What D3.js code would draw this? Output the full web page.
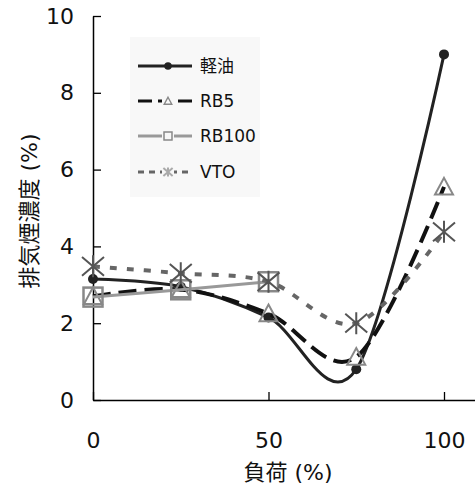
<!DOCTYPE html>
<html>
<head>
<meta charset="utf-8">
<script src="https://cdn.jsdelivr.net/npm/d3@7"></script>
<style>
body{margin:0;background:#fff;}
text{font-family:"DejaVu Sans","Noto Sans CJK JP",sans-serif;fill:#111;}
</style>
</head>
<body>
<div id="chart"></div>
<script>
// load values (%)
var loads = [0, 25, 50, 75, 100];
var seriesNames = ["軽油", "RB5", "RB100", "VTO"];
var keiyu = [3.15, 2.95, 2.15, 0.8, 9.0];
var rb5 = [2.7, 2.88, 2.25, 1.12, 5.55];
var rb100 = [2.68, 2.87, 3.08];
var vto = [3.48, 3.3, 3.08, 2.0, 4.38];
var xTicks = [0, 50, 100];
var yTicks = [0, 2, 4, 6, 8, 10];

var W = 475, H = 486;
var svg = d3.select("#chart").append("svg")
  .attr("width", W).attr("height", H);

var x = d3.scaleLinear().domain([0, 110]).range([93, 479.1]);
var y = d3.scaleLinear().domain([0, 10]).range([400, 16]);

// legend background
svg.append("rect").attr("x", 130).attr("y", 37).attr("width", 130).attr("height", 160)
  .attr("fill", "#f8f8f8");

// axes
var xAxis = svg.append("g").attr("transform", "translate(0,400)")
  .call(d3.axisBottom(x).tickValues(xTicks).tickSizeInner(-8).tickSizeOuter(0).tickPadding(26));
var yAxis = svg.append("g").attr("transform", "translate(93,0)")
  .call(d3.axisLeft(y).tickValues(yTicks).tickSizeInner(-8).tickSizeOuter(0).tickPadding(19));
[xAxis, yAxis].forEach(function(a){
  a.select(".domain").attr("stroke", "#000").attr("stroke-width", 1.5);
  a.selectAll(".tick line").attr("stroke", "#000").attr("stroke-width", 1.3);
  a.selectAll(".tick text").attr("font-size", 22).attr("font-family", null).attr("fill", "#111");
});
xAxis.selectAll(".tick text").attr("dy", "0.35em").attr("y", 40);
yAxis.selectAll(".tick text").attr("x", -19);

svg.append("text").text("負荷 (%)")
  .attr("x", 288).attr("y", 472).attr("dy", "0.35em")
  .attr("text-anchor", "middle").attr("font-size", 22);
svg.append("text").text("排気煙濃度 (%)")
  .attr("transform", "translate(29,211) rotate(-90)")
  .attr("dy", "0.35em")
  .attr("text-anchor", "middle").attr("font-size", 22);

var line = d3.line()
  .x(function(d){ return x(d[0]); })
  .y(function(d){ return y(d[1]); })
  .curve(d3.curveCardinal.tension(0));

function pts(vals){ return vals.map(function(v, i){ return [loads[i], v]; }); }

var styles = [
  {vals: keiyu, stroke: "#222", width: 3, dash: null, marker: "dot"},
  {vals: rb5, stroke: "#111", width: 4, dash: "18,8", marker: "tri"},
  {vals: rb100, stroke: "#999", width: 3, dash: null, marker: "sq"},
  {vals: vto, stroke: "#666", width: 4, dash: "7,10", marker: "star"}
];

function drawMarker(g, kind, cx, cy, s){
  if (kind === "dot") {
    g.append("circle").attr("cx", cx).attr("cy", cy).attr("r", 5 * s).attr("fill", "#222");
  } else if (kind === "tri") {
    var h = 9 * s;
    g.append("path")
      .attr("d", "M" + cx + "," + (cy - h) + "L" + (cx + h) + "," + (cy + h * 0.85) + "L" + (cx - h) + "," + (cy + h * 0.85) + "Z")
      .attr("fill", "none").attr("stroke", "#888").attr("stroke-width", 2 * Math.max(s, 0.7));
  } else if (kind === "sq") {
    var a = 9.5 * s;
    g.append("rect").attr("x", cx - a).attr("y", cy - a).attr("width", 2 * a).attr("height", 2 * a)
      .attr("fill", "none").attr("stroke", "#888").attr("stroke-width", 2.5 * Math.max(s, 0.6));
  } else if (kind === "star") {
    var r = 11 * s, c = s < 1 ? "#aaa" : "#555";
    var p = "M" + cx + "," + (cy - r) + "L" + cx + "," + (cy + r) +
      "M" + (cx - r) + "," + (cy - r * 0.85) + "L" + (cx + r) + "," + (cy + r * 0.85) +
      "M" + (cx - r) + "," + (cy + r * 0.85) + "L" + (cx + r) + "," + (cy - r * 0.85);
    g.append("path").attr("d", p).attr("fill", "none").attr("stroke", c).attr("stroke-width", 2);
  }
}

styles.forEach(function(s){
  var g = svg.append("g");
  g.append("path").datum(pts(s.vals)).attr("d", line)
    .attr("fill", "none").attr("stroke", s.stroke).attr("stroke-width", s.width)
    .attr("stroke-dasharray", s.dash);
  pts(s.vals).forEach(function(p){ drawMarker(g, s.marker, x(p[0]), y(p[1]), 1); });
});

// legend
var legY = [66, 101, 136, 172];
styles.forEach(function(s, i){
  var g = svg.append("g");
  g.append("line").attr("x1", 138).attr("x2", 192).attr("y1", legY[i]).attr("y2", legY[i])
    .attr("stroke", s.stroke).attr("stroke-width", 3)
    .attr("stroke-dasharray", s.dash ? (i === 1 ? "14,6" : "6,5") : null);
  if (s.marker !== "dot") {
    g.append("rect").attr("x", 162).attr("y", legY[i] - 6).attr("width", 12).attr("height", 12).attr("fill", "#f8f8f8");
  }
  drawMarker(g, s.marker, 168, legY[i], s.marker === "dot" ? 0.75 : 0.42);
  g.append("text").text(seriesNames[i]).attr("x", 200).attr("y", legY[i]).attr("dy", "0.35em")
    .attr("font-size", 17);
});
</script>
</body>
</html>
